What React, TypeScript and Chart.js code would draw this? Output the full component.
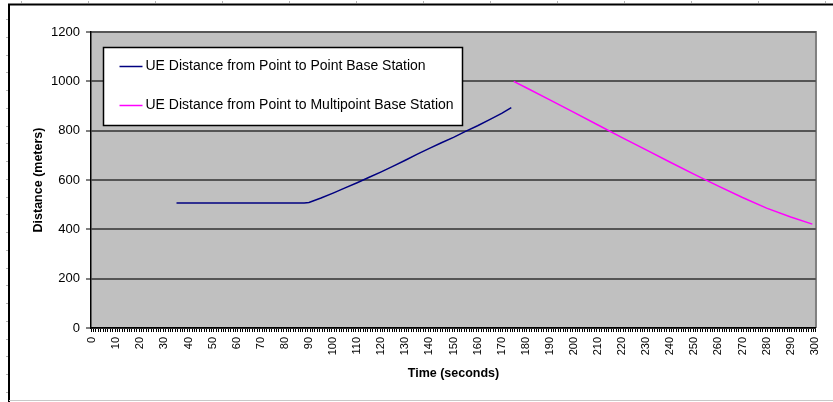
import React, { useEffect, useRef } from "react";
import { Chart, registerables } from "chart.js";

Chart.register(...registerables);

const FONT = '"Liberation Sans", Arial, Helvetica, sans-serif';

// Category labels: time in seconds (0 .. 300)
const timeLabels: string[] = Array.from({ length: 301 }, (_, i) => String(i));

const seriesNames: string[] = [
  "UE Distance from Point to Point Base Station",
  "UE Distance from Point to Multipoint Base Station",
];

// Point-to-point base station series
const p2pTimes: number[] = [35, 88, 90, 95, 100, 105, 110, 115, 120, 125, 130, 135, 140, 145, 150, 155, 160, 165, 170, 174];
const p2pDistances: number[] = [507, 507, 509, 527, 547, 568, 589, 611, 633, 656, 680, 705, 728, 751, 773, 797, 820, 845, 870, 893];

// Point-to-multipoint base station series
const p2mpTimes: number[] = [175, 180, 190, 200, 210, 220, 230, 240, 250, 260, 270, 280, 290, 299];
const p2mpDistances: number[] = [1000, 975, 925, 874, 823, 772, 722, 672, 623, 575, 529, 486, 450, 421];

const yMin = 0;
const yMax = 1200;
const yStep = 200;

const xTitle = "Time (seconds)";
const yTitle = "Distance (meters)";

export default function App() {
  const ref = useRef<HTMLCanvasElement | null>(null);

  useEffect(() => {
    const canvas = ref.current;
    if (!canvas) return;

    const framePlugin = {
      id: "frame",
      beforeDraw(chart: any) {
        const ctx = chart.ctx as CanvasRenderingContext2D;
        const { left, top, right, bottom } = chart.chartArea;
        ctx.save();
        ctx.fillStyle = "#ffffff";
        ctx.fillRect(0, 0, chart.width, chart.height);
        // small page marks
        ctx.strokeStyle = "#b4b4b4";
        ctx.lineWidth = 1;
        for (let y = 19; y < chart.height; y += 17.76) {
          const yy = Math.round(y) + 0.5;
          ctx.beginPath();
          ctx.moveTo(6, yy);
          ctx.lineTo(8, yy);
          ctx.stroke();
        }
        for (let x = 21; x < chart.width; x += 67) {
          const xx = Math.round(x) + 0.5;
          ctx.beginPath();
          ctx.moveTo(xx, 1);
          ctx.lineTo(xx, 3);
          ctx.stroke();
        }
        // outer frame
        ctx.strokeStyle = "#000000";
        ctx.lineWidth = 2;
        ctx.beginPath();
        ctx.moveTo(9, chart.height);
        ctx.lineTo(9, 4.5);
        ctx.lineTo(chart.width, 4.5);
        ctx.stroke();
        ctx.strokeStyle = "#c8c8c8";
        ctx.lineWidth = 1;
        ctx.beginPath();
        ctx.moveTo(9, 400.5);
        ctx.lineTo(chart.width, 400.5);
        ctx.stroke();
        // plot area
        ctx.fillStyle = "#c0c0c0";
        ctx.fillRect(left, top, right - left, bottom - top);
        ctx.strokeStyle = "#808080";
        ctx.lineWidth = 2;
        ctx.beginPath();
        ctx.moveTo(left, top);
        ctx.lineTo(right, top);
        ctx.lineTo(right, bottom);
        ctx.stroke();
        ctx.restore();
      },
    };

    const legendPlugin = {
      id: "boxLegend",
      afterDatasetsDraw(chart: any) {
        const ctx = chart.ctx as CanvasRenderingContext2D;
        const { left, top } = chart.chartArea;
        const bx = left + 12.5;
        const by = top + 15.5;
        const bw = 359;
        const bh = 78;
        ctx.save();
        ctx.fillStyle = "#ffffff";
        ctx.fillRect(bx, by, bw, bh);
        ctx.strokeStyle = "#000000";
        ctx.lineWidth = 1.5;
        ctx.strokeRect(bx, by, bw, bh);
        ctx.font = `14px ${FONT}`;
        ctx.textBaseline = "middle";
        ctx.textAlign = "left";
        chart.data.datasets.forEach((ds: any, i: number) => {
          const y = by + 19 + i * 39;
          ctx.strokeStyle = ds.borderColor;
          ctx.lineWidth = 1.5;
          ctx.beginPath();
          ctx.moveTo(bx + 16, y);
          ctx.lineTo(bx + 39, y);
          ctx.stroke();
          ctx.fillStyle = "#000000";
          ctx.fillText(ds.label, bx + 42, y);
        });
        ctx.restore();
      },
    };

    const chart = new Chart(canvas, {
      type: "line",
      data: {
        labels: timeLabels,
        datasets: [
          {
            label: seriesNames[0],
            data: p2pTimes.map((t, i) => ({ x: String(t), y: p2pDistances[i] })),
            borderColor: "#000080",
            borderWidth: 1.5,
            pointRadius: 0,
            tension: 0,
            fill: false,
          },
          {
            label: seriesNames[1],
            data: p2mpTimes.map((t, i) => ({ x: String(t), y: p2mpDistances[i] })),
            borderColor: "#ff00ff",
            borderWidth: 1.5,
            pointRadius: 0,
            tension: 0,
            fill: false,
          },
        ],
      } as any,
      options: {
        responsive: false,
        animation: false,
        layout: { padding: { left: 31, top: 32, right: 15, bottom: 21 } },
        plugins: {
          legend: { display: false },
          tooltip: { enabled: false },
        },
        scales: {
          x: {
            type: "category",
            offset: true,
            grid: {
              offset: true,
              drawOnChartArea: false,
              drawTicks: true,
              tickLength: 4,
              color: "#000000",
              lineWidth: 1,
            },
            border: { color: "#000000", width: 1.5 },
            ticks: {
              autoSkip: false,
              minRotation: 90,
              maxRotation: 90,
              padding: 5,
              color: "#000000",
              font: { family: FONT, size: 11 },
              callback: function (this: any, v: any, i: number) {
                return i % 10 === 0 ? this.getLabelForValue(v) : "";
              },
            },
            title: {
              display: true,
              text: xTitle,
              color: "#000000",
              font: { family: FONT, size: 12.5, weight: "bold" },
              padding: 0,
            },
            afterFit(scale: any) {
              scale.height = 53;
            },
          },
          y: {
            min: yMin,
            max: yMax,
            ticks: {
              stepSize: yStep,
              padding: 6,
              color: "#000000",
              font: { family: FONT, size: 13 },
              callback: (v: any) => String(v),
            },
            grid: {
              color: "#555555",
              lineWidth: 2,
              tickColor: "#000000",
              tickLength: 5,
              tickWidth: 1,
            },
            border: { color: "#000000", width: 1.5 },
            title: {
              display: true,
              text: yTitle,
              color: "#000000",
              font: { family: FONT, size: 12.5, weight: "bold" },
              padding: 0,
            },
            afterFit(scale: any) {
              scale.width = 60;
            },
          },
        },
      } as any,
      plugins: [framePlugin, legendPlugin],
    });

    return () => chart.destroy();
  }, []);

  return (
    <div style={{ position: "absolute", left: 0, top: 0, width: 833, height: 402 }}>
      <canvas ref={ref} width={833} height={402} style={{ display: "block" }} />
    </div>
  );
}
